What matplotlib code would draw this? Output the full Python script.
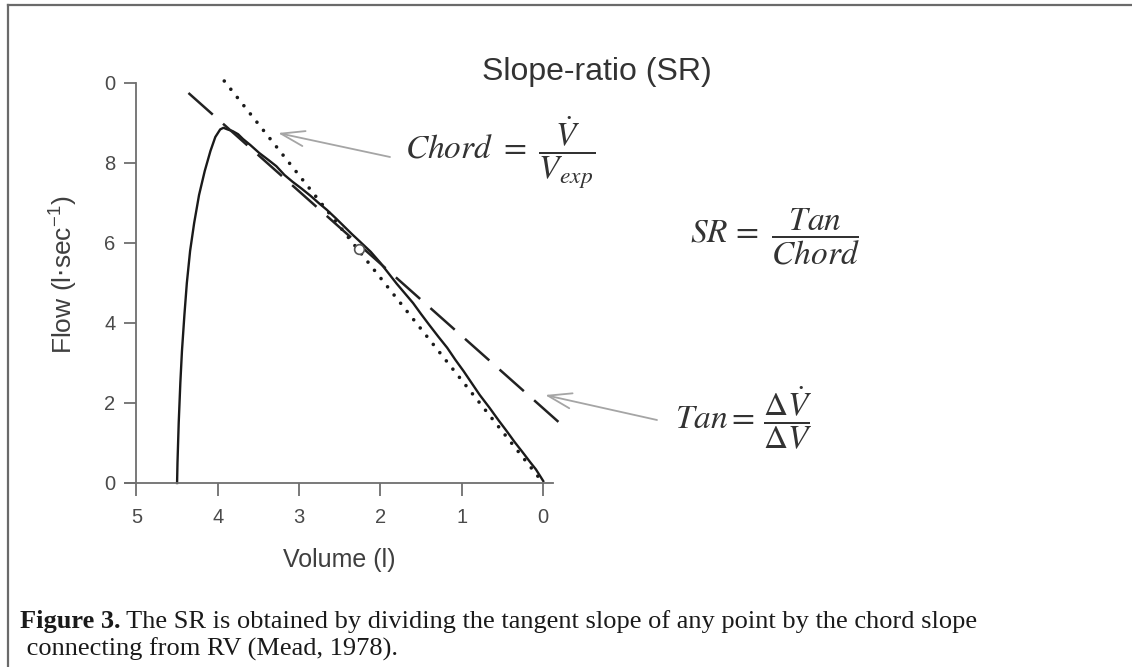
import matplotlib
matplotlib.use("Agg")
import matplotlib.pyplot as plt
from matplotlib.lines import Line2D

W, H, DPI = 1132, 667, 100

# ---------------- data ----------------
curve_volume = [4.50, 4.495, 4.48, 4.46, 4.44, 4.41, 4.38, 4.34, 4.29, 4.23, 4.16, 4.09, 4.03,
                3.97, 3.93, 3.88, 3.82, 3.75, 3.69, 3.60, 3.49, 3.38, 3.28, 3.18, 3.08,
                2.97, 2.86, 2.76, 2.66, 2.55, 2.45, 2.35, 2.25, 2.12, 2.00, 1.90, 1.80,
                1.70, 1.60, 1.50, 1.40, 1.29, 1.18, 1.08, 0.98, 0.88, 0.78, 0.66, 0.55,
                0.45, 0.35, 0.25, 0.16, 0.09, 0.04, 0.0]
curve_flow = [0.0, 0.5, 1.5, 2.5, 3.3, 4.2, 5.0, 5.8, 6.5, 7.2, 7.8, 8.3, 8.65,
              8.84, 8.88, 8.84, 8.80, 8.72, 8.60, 8.45, 8.25, 8.08, 7.92, 7.70, 7.53,
              7.36, 7.18, 7.00, 6.83, 6.62, 6.42, 6.22, 6.03, 5.78, 5.50, 5.24, 4.98,
              4.74, 4.50, 4.22, 3.95, 3.66, 3.38, 3.08, 2.80, 2.50, 2.20, 1.88, 1.57,
              1.30, 1.02, 0.76, 0.52, 0.34, 0.18, 0.05]
chord_volume = [3.92, 0.0]
chord_flow = [10.05, 0.0]
tangent_volume = [4.36, -0.23]
tangent_flow = [9.75, 1.45]
point_volume = [2.27]
point_flow = [5.85]
x_ticks = [5, 4, 3, 2, 1, 0]
x_tick_labels = ["5", "4", "3", "2", "1", "0"]
y_ticks = [0, 2, 4, 6, 8, 10]
y_tick_labels = ["0", "2", "4", "6", "8", "0"]

title_text = "Slope-ratio (SR)"
x_label = "Volume (l)"
y_label = r"Flow (l$\cdot$sec$^{\mathregular{-1}}$)"
eq_chord = r"$Chord\ =\ \dfrac{\dot{V}}{V_{exp}}$"
eq_sr = r"$SR\,= \ \dfrac{\ Tan\ }{Chord}$"
eq_tan = r"$Tan = \,\dfrac{\Delta\dot{V}}{\Delta V}$"
caption_bold = "Figure 3."
caption_rest = " The SR is obtained by dividing the tangent slope of any point by the chord slope"
caption_line2 = " connecting from RV (Mead, 1978)."

# ---------------- figure ----------------
plt.rcParams["font.family"] = ["Liberation Sans", "DejaVu Sans"]
fig = plt.figure(figsize=(W / DPI, H / DPI), dpi=DPI)
fig.patch.set_facecolor("white")


def fx(px):
    return px / W


def fy(py):
    return 1 - py / H


ax = fig.add_axes([fx(125), fy(483), (553 - 125) / W, (483 - 67) / H])
ax.set_xlim(5.14, -0.12)
ax.set_ylim(0, 10.4)
ax.patch.set_alpha(0)

for s in ["top", "right"]:
    ax.spines[s].set_visible(False)
ax.spines["left"].set_position(("data", 5))
ax.spines["left"].set_bounds(0, 10)
for s in ["left", "bottom"]:
    ax.spines[s].set_color("#6e6e6e")
    ax.spines[s].set_linewidth(1.3)

ax.set_xticks(x_ticks)
ax.set_xticklabels(x_tick_labels)
ax.set_yticks(y_ticks)
ax.set_yticklabels(y_tick_labels)
ax.tick_params(direction="out", length=9, width=1.3, color="#6e6e6e",
               labelsize=14.5, labelcolor="#4a4a4a", pad=6)
ax.tick_params(axis="x", pad=9)

ax.set_xlabel(x_label, fontsize=18, color="#3f3f3f", labelpad=15)
ax.set_ylabel(y_label, fontsize=19, color="#3f3f3f", labelpad=18,
              math_fontfamily="dejavusans")

# lines
ax.plot(curve_volume, curve_flow, color="#1a1a1a", lw=1.7, clip_on=False,
        solid_joinstyle="round")
ax.plot(chord_volume, chord_flow, color="#1a1a1a", lw=2.6, clip_on=False,
        dashes=(0.01, 2.9), dash_capstyle="round")
ax.plot(tangent_volume, tangent_flow, color="#222222", lw=1.8, clip_on=False,
        dashes=(13, 5.5))
ax.plot(point_volume, point_flow, "o", mfc="white", mec="#555555", ms=7, mew=1.2,
        clip_on=False)

# title and equations
fig.text(fx(597), fy(72), title_text, fontsize=23, color="#333333",
         ha="center", va="center")
fig.text(fx(405), fy(153), eq_chord, fontsize=24, color="#333333",
         ha="left", va="center", math_fontfamily="stix")
fig.text(fx(690), fy(237), eq_sr, fontsize=24, color="#333333",
         ha="left", va="center", math_fontfamily="stix")
fig.text(fx(675), fy(418), eq_tan, fontsize=24, color="#333333",
         ha="left", va="center", math_fontfamily="stix")

# arrows
arrow_kw = dict(arrowstyle="->,head_length=1.7,head_width=0.55", color="#a5a5a5",
                lw=1.3, mutation_scale=10, shrinkA=0, shrinkB=0)
ax.annotate("", xy=(278, H - 133), xycoords="figure pixels",
            xytext=(390, H - 157), textcoords="figure pixels", arrowprops=arrow_kw)
ax.annotate("", xy=(545, H - 395), xycoords="figure pixels",
            xytext=(657, H - 420), textcoords="figure pixels", arrowprops=arrow_kw)

# frame
fig.add_artist(Line2D([fx(8), 1], [fy(5), fy(5)], transform=fig.transFigure,
                      color="#6a6a6a", lw=1.6))
fig.add_artist(Line2D([fx(8), fx(8)], [fy(5), 0], transform=fig.transFigure,
                      color="#6a6a6a", lw=1.6))

# caption
cap_kw = dict(fontsize=19, color="#1a1a1a", family="Liberation Serif", va="baseline")
t1 = fig.text(fx(20), fy(628), caption_bold, fontweight="bold", **cap_kw)
fig.canvas.draw()
bb = t1.get_window_extent(renderer=fig.canvas.get_renderer())
fig.text(bb.x1 / W, fy(628), caption_rest, **cap_kw)
fig.text(fx(20), fy(656), caption_line2, **cap_kw)

fig.savefig("out.png", dpi=DPI, facecolor="white")
